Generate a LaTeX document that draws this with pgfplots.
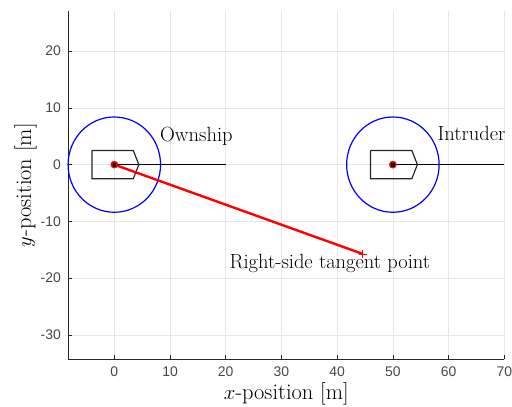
\documentclass[border=0pt]{standalone}
\usepackage{fontspec}
\usepackage{pgfplots}
\pgfplotsset{compat=1.18}
\newfontfamily\ticksf{Liberation Sans}
\definecolor{axgray}{HTML}{262626}
\definecolor{gridgray}{HTML}{E6E6E6}
\begin{document}
\begin{tikzpicture}
\begin{axis}[
  name=ax,
  scale only axis,
  width=436bp, height=347.5bp,
  xmin=-8.26, xmax=70, ymin=-34.27, ymax=27.0,
  xtick={0,10,...,70}, ytick={-30,-20,...,20},
  axis x line*=bottom, axis y line*=left,
  axis line style={axgray, line width=0.6bp},
  tick align=inside, major tick length=4bp,
  tick style={axgray, line width=0.5bp},
  grid=major, major grid style={gridgray, line width=0.5bp},
  /pgf/number format/assume math mode=true,
  ticklabel style={font=\ticksf\fontsize{14}{16}\selectfont, text=axgray!85},
  xticklabel style={yshift=-4bp},
  yticklabel style={xshift=-4bp},
  xlabel={$x$-position [m]},
  ylabel={$y$-position [m]},
  label style={font=\fontsize{22.5}{26}\selectfont},
  xlabel style={yshift=0.5bp},
  ylabel style={yshift=-3bp},
  clip=false,
]
% circles
\draw[blue, line width=1.2bp] (axis cs:0,0) ellipse [x radius=8.3, y radius=8.4];
\draw[blue, line width=1.2bp] (axis cs:50,0) ellipse [x radius=8.3, y radius=8.4];
% heading lines
\addplot[black, line width=1.1bp] coordinates {(0,0) (20,0)};
\addplot[black, line width=1.1bp] coordinates {(50,0) (70,0)};
% ship hulls
\addplot[black!85, line width=1.2bp] coordinates {(-4,2.5) (3.4,2.5) (4.4,0) (3.4,-2.5) (-4,-2.5) (-4,2.5)};
\addplot[black!85, line width=1.2bp] coordinates {(46,2.5) (53.4,2.5) (54.4,0) (53.4,-2.5) (46,-2.5) (46,2.5)};
% tangent line
\addplot[red, line width=2.4bp] coordinates {(0,0) (44.6,-15.75)};
\addplot[red, only marks, mark=+, mark size=4bp, mark options={line width=0.8bp}] coordinates {(44.6,-15.75)};
% center markers
\addplot[red, only marks, mark=*, mark size=3.6bp, mark options={fill=red!85!black, draw=red}] coordinates {(0,0) (50,0)};
\addplot[black, only marks, mark=square*, mark size=1.2bp] coordinates {(0,0) (50,0)};
% labels
\node[anchor=base west, inner sep=0pt, font=\fontsize{20.6}{24}\selectfont] at (axis cs:8.2,4.06) {Ownship};
\node[anchor=base west, inner sep=0pt, font=\fontsize{20.6}{24}\selectfont] at (axis cs:58.0,4.2) {Intruder};
\node[anchor=base west, inner sep=0pt, font=\fontsize{20.6}{24}\selectfont] at (axis cs:20.65,-18.4) {Right-side tangent point};
\end{axis}
\pgfresetboundingbox
\path ([shift={(-68.3bp,-48bp)}]ax.south west) rectangle ([shift={(7.7bp,11.5bp)}]ax.north east);
\end{tikzpicture}
\end{document}
